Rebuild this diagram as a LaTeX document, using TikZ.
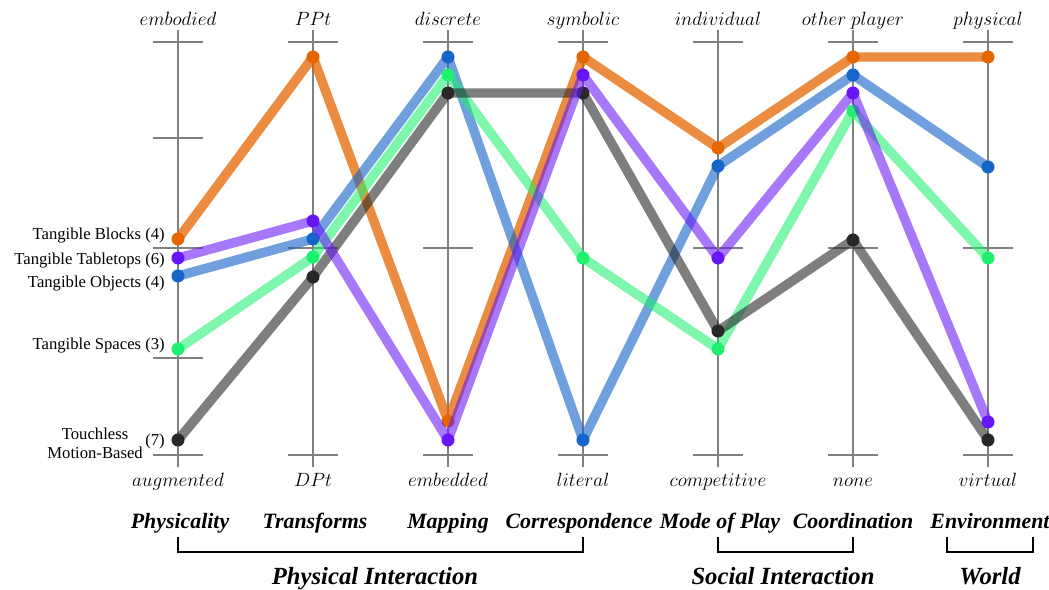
\documentclass[tikz,border=0pt]{standalone}
\usepackage{fontspec}
\setmainfont{Liberation Serif}
\definecolor{axisgray}{RGB}{128,128,128}
\definecolor{orangeC}{RGB}{229,101,0}
\definecolor{purpleC}{RGB}{104,22,246}
\definecolor{blueC}{RGB}{22,101,200}
\definecolor{greenC}{RGB}{32,240,112}
\definecolor{blackC}{RGB}{40,40,40}
\tikzset{
  axisline/.style={draw=axisgray, line width=1.9pt},
  tickline/.style={draw=axisgray, line width=1.9pt},
  serline/.style={line width=7.1pt, line join=round, line cap=round, draw opacity=0.75},
  dot/.style={circle, inner sep=0pt, minimum size=9.8pt, draw=none},
  vallabel/.style={font=\fontsize{14.6pt}{17pt}\selectfont, anchor=base, inner sep=0pt},
  leftlabel/.style={font=\fontsize{12.5pt}{15pt}\selectfont, anchor=east, inner sep=0pt},
  catlabel/.style={font=\fontsize{16.4pt}{19pt}\selectfont\bfseries\itshape, anchor=base, inner sep=0pt},
  grouplabel/.style={font=\fontsize{18.5pt}{22pt}\selectfont\bfseries\itshape, anchor=base, inner sep=0pt},
  bracketline/.style={draw=black, line width=1.6pt},
}
\begin{document}
\begin{tikzpicture}[x=0.75pt,y=-0.75pt]
\useasboundingbox (0,0) rectangle (1049,589);
% axes
\foreach \i/\x in {1/178,2/313,3/448,4/583,5/718,6/853,7/988}{
  \draw[axisline] (\x,30) coordinate (ax\i top) -- (\x,467) coordinate (ax\i bot);
  \draw[tickline] (\x-25,42) -- (\x+25,42);
  \draw[tickline] (\x-25,455) -- (\x+25,455);
}
\foreach \x in {178,313,448,718,853,988}{
  \draw[tickline] (\x-25,248) -- (\x+25,248);
}
\draw[tickline] (153,138) -- (203,138);
\draw[tickline] (153,358) -- (203,358);
% top labels
\node[vallabel] (t1) at (178,25) {$embodied$};
\node[vallabel] (t2) at (313,25) {$PPt$};
\node[vallabel] (t3) at (448,25) {$discrete$};
\node[vallabel] (t4) at (583,25) {$symbolic$};
\node[vallabel] (t5) at (718,25) {$individual$};
\node[vallabel] (t6) at (853,25) {$other\ player$};
\node[vallabel] (t7) at (988,25) {$physical$};
% bottom labels
\node[vallabel] (b1) at (178,486) {$augmented$};
\node[vallabel] (b2) at (313,486) {$DPt$};
\node[vallabel] (b3) at (448,486) {$embedded$};
\node[vallabel] (b4) at (583,486) {$literal$};
\node[vallabel] (b5) at (718,486) {$competitive$};
\node[vallabel] (b6) at (853,486) {$none$};
\node[vallabel] (b7) at (988,486) {$virtual$};
% category labels
\node[catlabel] (c1) at (180,528) {Physicality};
\node[catlabel] (c2) at (315,528) {Transforms};
\node[catlabel] (c3) at (448,528) {Mapping};
\node[catlabel] (c4) at (579,528) {Correspondence};
\node[catlabel] (c5) at (720,528) {Mode of Play};
\node[catlabel] (c6) at (853,528) {Coordination};
\node[catlabel] (c7) at (990,528) {Environment};
% brackets
\coordinate (br1a) at (178,537); \coordinate (br1b) at (583,537);
\coordinate (br2a) at (718,537); \coordinate (br2b) at (853,537);
\coordinate (br3a) at (947,537); \coordinate (br3b) at (1033,537);
\draw[bracketline] (br1a) -- ++(0,15) -| (br1b);
\draw[bracketline] (br2a) -- ++(0,15) -| (br2b);
\draw[bracketline] (br3a) -- ++(0,15) -| (br3b);
\node[grouplabel] (g1) at (375,584) {Physical Interaction};
\node[grouplabel] (g2) at (783,584) {Social Interaction};
\node[grouplabel] (g3) at (990,584) {World};
% left labels
\node[leftlabel] (l1) at (165,236) {Tangible Blocks (4)};
\node[leftlabel] (l2) at (165,261) {Tangible Tabletops (6)};
\node[leftlabel] (l3) at (165,284) {Tangible Objects (4)};
\node[leftlabel] (l4) at (165,346) {Tangible Spaces (3)};
\node[leftlabel] (l5n) at (165,441) {(7)};
\node[font=\fontsize{12.5pt}{15pt}\selectfont, align=center, inner sep=0pt, anchor=east] (l5) at (143,443) {Touchless\\[-1pt]Motion-Based};
% series coordinates
\foreach \n/\p in {o1/{178,239},o2/{313,57},o3/{448,421},o4/{583,57},o5/{718,148},o6/{853,57},o7/{988,57},
                  p1/{178,258},p2/{313,221},p3/{448,440},p4/{583,75},p5/{718,258},p6/{853,93},p7/{988,422},
                  u1/{178,276},u2/{313,239},u3/{448,57},u4/{583,440},u5/{718,166},u6/{853,75},u7/{988,167},
                  g1/{178,349},g2/{313,257},g3/{448,75},g4/{583,258},g5/{718,349},g6/{853,111},g7/{988,258},
                  k1/{178,440},k2/{313,277},k3/{448,93},k4/{583,93},k5/{718,331},k6/{853,240},k7/{988,440}}{
  \coordinate (\n) at (\p);
}
% orange
\draw[serline, orangeC] (o1) -- (o2) -- (o3) -- (o4) -- (o5) -- (o6) -- (o7);
\foreach \n in {o1,o2,o3,o4,o5,o6,o7}{\node[dot, fill=orangeC] (\n d) at (\n) {};}
% blue
\draw[serline, blueC, draw opacity=0.62] (u1) -- (u2) -- (u3) -- (u4) -- (u5) -- (u6) -- (u7);
\foreach \n in {u1,u2,u3,u4,u5,u6,u7}{\node[dot, fill=blueC] (\n d) at (\n) {};}
% green
\draw[serline, greenC, draw opacity=0.58] (g1) -- (g2) -- (g3) -- (g4) -- (g5) -- (g6) -- (g7);
\foreach \n in {g1,g2,g3,g4,g5,g6,g7}{\node[dot, fill=greenC] (\n d) at (\n) {};}
% black
\draw[serline, blackC, draw opacity=0.6] (k1) -- (k2) -- (k3) -- (k4) -- (k5) -- (k6) -- (k7);
\foreach \n in {k1,k2,k3,k4,k5,k6,k7}{\node[dot, fill=blackC] (\n d) at (\n) {};}
% purple
\draw[serline, purpleC, draw opacity=0.58] (p1) -- (p2) -- (p3) -- (p4) -- (p5) -- (p6) -- (p7);
\foreach \n in {p1,p2,p3,p4,p5,p6,p7}{\node[dot, fill=purpleC] (\n d) at (\n) {};}
\end{tikzpicture}
\end{document}
